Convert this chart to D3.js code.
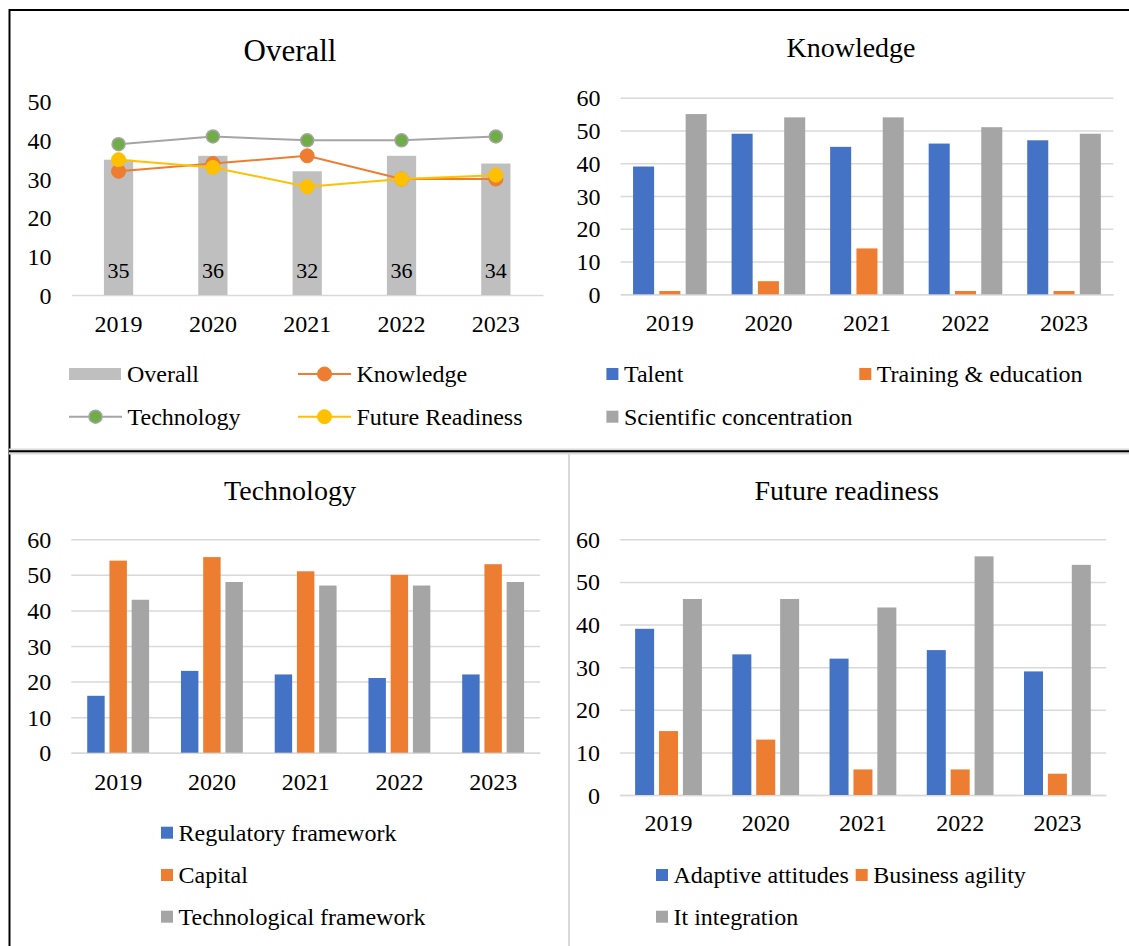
<!DOCTYPE html>
<html>
<head>
<meta charset="utf-8">
<script src="https://cdn.jsdelivr.net/npm/d3@7"></script>
<style>
body { margin: 0; background: #fff; }
svg text { font-family: "Liberation Serif", "Times New Roman", serif; fill: #000; }
</style>
</head>
<body>
<svg id="chart" width="1129" height="946" font-family="'Liberation Serif', 'Times New Roman', serif"></svg>
<script>
const years = ["2019", "2020", "2021", "2022", "2023"];

// Overall panel
const overallBarName = "Overall";
const overallVals = [35, 36, 32, 36, 34];
const overallLineNames = ["Knowledge", "Technology", "Future Readiness"];
const knowledgeScore = [32, 34, 36, 30, 30];
const technologyScore = [39, 41, 40, 40, 41];
const futureScore = [35, 33, 28, 30, 31];

// Knowledge panel
const knowledgeNames = ["Talent", "Training & education", "Scientific concentration"];
const talentVals = [39, 49, 45, 46, 47];
const trainingVals = [1, 4, 14, 1, 1];
const scientificVals = [55, 54, 54, 51, 49];

// Technology panel
const techNames = ["Regulatory framework", "Capital", "Technological framework"];
const regulatoryVals = [16, 23, 22, 21, 22];
const capitalVals = [54, 55, 51, 50, 53];
const techFrameworkVals = [43, 48, 47, 47, 48];

// Future readiness panel
const futureNames = ["Adaptive attitudes", "Business agility", "It integration"];
const adaptiveVals = [39, 33, 32, 34, 29];
const agilityVals = [15, 13, 6, 6, 5];
const itVals = [46, 46, 44, 56, 54];

const ticks50 = [0, 10, 20, 30, 40, 50];
const ticks60 = [0, 10, 20, 30, 40, 50, 60];

const serif = "'Liberation Serif', 'Times New Roman', serif";
const blue = "#4472c4", orange = "#ed7d31", gray = "#a5a5a5",
      lightGray = "#bfbfbf", green = "#70ad47", yellow = "#ffc000", gridColor = "#d9d9d9";

const svg = d3.select("#chart");

// frame and dividers
svg.append("line").attr("x1", 9).attr("x2", 1129).attr("y1", 10).attr("y2", 10)
    .attr("stroke", "#000").attr("stroke-width", 2);
svg.append("line").attr("x1", 9.5).attr("x2", 9.5).attr("y1", 9).attr("y2", 946)
    .attr("stroke", "#000").attr("stroke-width", 2);
svg.append("rect").attr("x", 9).attr("y", 448.5).attr("width", 1120).attr("height", 6).attr("fill", "#dcdcdc");
svg.append("line").attr("x1", 9).attr("x2", 1129).attr("y1", 451.3).attr("y2", 451.3)
    .attr("stroke", "#000").attr("stroke-width", 2);
svg.append("line").attr("x1", 569).attr("x2", 569).attr("y1", 454).attr("y2", 946)
    .attr("stroke", gridColor).attr("stroke-width", 2);

function label(sel) {
    return sel.style("font-family", serif).attr("fill", "#000");
}

function panelAxes(cfg) {
    const g = svg.append("g");
    const x = d3.scaleBand().domain(years).range([cfg.x0, cfg.x1]).padding(0);
    const y = d3.scaleLinear().domain([0, cfg.max]).range([cfg.yBot, cfg.yTop]);

    const yAxis = g.append("g")
        .attr("transform", `translate(${cfg.x0},0)`)
        .call(d3.axisLeft(y).tickValues(cfg.ticks)
            .tickSize(cfg.grid ? -(cfg.x1 - cfg.x0) : 0)
            .tickPadding(20))
        .attr("font-family", serif);
    yAxis.select(".domain").remove();
    yAxis.selectAll("line").attr("stroke", gridColor).attr("stroke-width", 1.5);
    label(yAxis.selectAll("text")).attr("font-size", 24)
        .attr("dy", null).attr("dominant-baseline", "central");

    const xAxis = g.append("g")
        .attr("transform", `translate(0,${cfg.yBot})`)
        .call(d3.axisBottom(x).tickSize(0).tickSizeOuter(0))
        .attr("font-family", serif);
    xAxis.select(".domain").attr("stroke", gridColor).attr("stroke-width", 1.5);
    label(xAxis.selectAll("text")).attr("font-size", 24)
        .attr("dy", null).attr("y", cfg.labelOffset).attr("dominant-baseline", "central");

    label(g.append("text"))
        .attr("x", cfg.titleX).attr("y", cfg.titleY)
        .attr("text-anchor", "middle")
        .attr("font-size", cfg.titleSize || 28)
        .text(cfg.title);

    return { g, x, y };
}

function groupedBars(cfg, series) {
    const { g, x, y } = panelAxes(cfg);
    const groupW = x.bandwidth() * cfg.groupFrac;
    const inner = d3.scaleBand().domain(d3.range(series.length))
        .range([(x.bandwidth() - groupW) / 2, (x.bandwidth() + groupW) / 2])
        .paddingInner(cfg.innerPad);

    series.forEach((s, i) => {
        g.append("g").selectAll("rect")
            .data(s.vals)
            .join("rect")
            .attr("x", (d, j) => x(years[j]) + inner(i))
            .attr("y", d => y(d))
            .attr("width", inner.bandwidth())
            .attr("height", d => y(0) - y(d))
            .attr("fill", s.color);
    });

    cfg.legend.forEach((pos, i) => {
        g.append("rect").attr("x", pos[0]).attr("y", pos[1] - 6)
            .attr("width", 12).attr("height", 12).attr("fill", series[i].color);
        label(g.append("text")).attr("x", pos[0] + 17.5).attr("y", pos[1])
            .attr("dominant-baseline", "central").attr("font-size", 24)
            .text(series[i].name);
    });
}

// ---------- Overall ----------
(function () {
    const cfg = { title: "Overall", titleX: 290, titleY: 61, titleSize: 31,
        x0: 71.4, x1: 543, yTop: 101.7, yBot: 295, max: 50, ticks: ticks50,
        grid: false, labelOffset: 28.5 };
    const { g, x, y } = panelAxes(cfg);
    const barW = x.bandwidth() * 0.31;
    const cx = d => x(d) + x.bandwidth() / 2;

    g.append("g").selectAll("rect")
        .data(overallVals)
        .join("rect")
        .attr("x", (d, i) => cx(years[i]) - barW / 2)
        .attr("y", d => y(d))
        .attr("width", barW)
        .attr("height", d => y(0) - y(d))
        .attr("fill", lightGray);

    label(g.append("g").selectAll("text")
        .data(overallVals)
        .join("text"))
        .attr("x", (d, i) => cx(years[i]))
        .attr("y", y(0) - 25)
        .attr("text-anchor", "middle")
        .attr("dominant-baseline", "central")
        .attr("font-size", 22)
        .text(d => d);

    const lines = [
        { vals: technologyScore, stroke: gray, fill: green, mStroke: gray, r: 6.5, sw: 1.5 },
        { vals: knowledgeScore, stroke: orange, fill: orange, mStroke: orange, r: 7, sw: 1 },
        { vals: futureScore, stroke: yellow, fill: yellow, mStroke: yellow, r: 7, sw: 1 }
    ];
    const line = d3.line().x((d, i) => cx(years[i])).y(d => y(d));
    lines.forEach(l => {
        g.append("path").datum(l.vals).attr("d", line)
            .attr("fill", "none").attr("stroke", l.stroke).attr("stroke-width", 2);
        g.append("g").selectAll("circle")
            .data(l.vals)
            .join("circle")
            .attr("cx", (d, i) => cx(years[i]))
            .attr("cy", d => y(d))
            .attr("r", l.r)
            .attr("fill", l.fill)
            .attr("stroke", l.mStroke).attr("stroke-width", l.sw);
    });

    // legend
    g.append("rect").attr("x", 69).attr("y", 368).attr("width", 52).attr("height", 12).attr("fill", lightGray);
    label(g.append("text")).attr("x", 127).attr("y", 374).attr("dominant-baseline", "central")
        .attr("font-size", 24).text(overallBarName);

    const legendLines = [
        { name: overallLineNames[0], x: 298, y: 374, l: lines[1] },
        { name: overallLineNames[1], x: 69, y: 416.7, l: lines[0] },
        { name: overallLineNames[2], x: 298, y: 416.7, l: lines[2] }
    ];
    legendLines.forEach(o => {
        g.append("line").attr("x1", o.x).attr("x2", o.x + 53).attr("y1", o.y).attr("y2", o.y)
            .attr("stroke", o.l.stroke).attr("stroke-width", 2);
        g.append("circle").attr("cx", o.x + 26.5).attr("cy", o.y).attr("r", o.l.r)
            .attr("fill", o.l.fill).attr("stroke", o.l.mStroke).attr("stroke-width", o.l.sw);
        label(g.append("text")).attr("x", o.x + 58.5).attr("y", o.y).attr("dominant-baseline", "central")
            .attr("font-size", 24).text(o.name);
    });
})();

// ---------- Knowledge ----------
groupedBars({ title: "Knowledge", titleX: 851, titleY: 57,
    x0: 620.6, x1: 1113.3, yTop: 97.7, yBot: 294.3, max: 60, ticks: ticks60,
    grid: true, labelOffset: 29, groupFrac: 0.747, innerPad: 0.2,
    legend: [[606.4, 374], [859.3, 374], [606.4, 416.7]] },
    [{ name: knowledgeNames[0], vals: talentVals, color: blue },
     { name: knowledgeNames[1], vals: trainingVals, color: orange },
     { name: knowledgeNames[2], vals: scientificVals, color: gray }]);

// ---------- Technology ----------
groupedBars({ title: "Technology", titleX: 290, titleY: 500,
    x0: 71.3, x1: 540, yTop: 539.3, yBot: 752.7, max: 60, ticks: ticks60,
    grid: true, labelOffset: 29, groupFrac: 0.66, innerPad: 0.216,
    legend: [[161, 832.7], [161, 875], [161, 916.7]] },
    [{ name: techNames[0], vals: regulatoryVals, color: blue },
     { name: techNames[1], vals: capitalVals, color: orange },
     { name: techNames[2], vals: techFrameworkVals, color: gray }]);

// ---------- Future readiness ----------
groupedBars({ title: "Future readiness", titleX: 846.7, titleY: 500,
    x0: 619.9, x1: 1106, yTop: 539.3, yBot: 795, max: 60, ticks: ticks60,
    grid: true, labelOffset: 28.3, groupFrac: 0.687, innerPad: 0.205,
    legend: [[656, 875], [855.7, 875], [656, 916.7]] },
    [{ name: futureNames[0], vals: adaptiveVals, color: blue },
     { name: futureNames[1], vals: agilityVals, color: orange },
     { name: futureNames[2], vals: itVals, color: gray }]);
</script>
</body>
</html>
